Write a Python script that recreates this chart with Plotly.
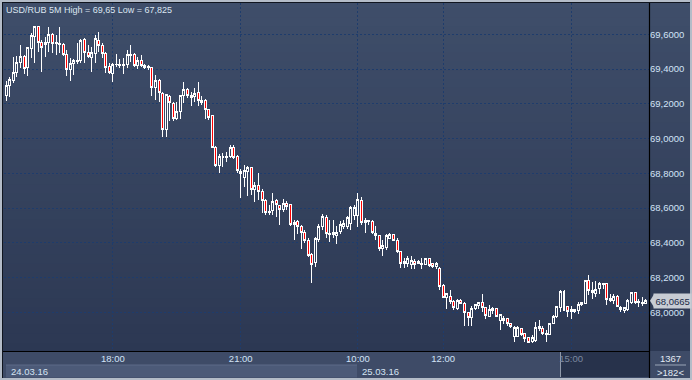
import plotly.graph_objects as go

# ---------------- data ----------------
title_text = "USD/RUB 5M High = 69,65 Low = 67,825"

opens = [
    69.245, 69.303, 69.337, 69.381, 69.437, 69.475, 69.410, 69.519, 69.587, 69.644,
    69.554, 69.544, 69.554, 69.600, 69.548, 69.548, 69.544, 69.485, 69.395, 69.433,
    69.443, 69.448, 69.571, 69.496, 69.468, 69.491, 69.567, 69.533, 69.491, 69.414,
    69.376, 69.424, 69.422, 69.420, 69.424, 69.479, 69.481, 69.422, 69.450, 69.418,
    69.408, 69.408, 69.295, 69.333, 69.261, 69.053, 69.241, 69.203, 69.117, 69.155,
    69.245, 69.284, 69.245, 69.241, 69.266, 69.209, 69.218, 69.165, 69.130, 68.950,
    68.843, 68.891, 68.891, 68.898, 68.946, 68.898, 68.799, 68.776, 68.808, 68.833,
    68.707, 68.731, 68.697, 68.645, 68.574, 68.588, 68.645, 68.613, 68.591, 68.626,
    68.620, 68.507, 68.524, 68.492, 68.459, 68.415, 68.333, 68.286, 68.419, 68.496,
    68.545, 68.453, 68.448, 68.444, 68.467, 68.496, 68.492, 68.511, 68.559, 68.559,
    68.645, 68.515, 68.530, 68.520, 68.453, 68.440, 68.367, 68.373, 68.425, 68.448,
    68.415, 68.348, 68.281, 68.281, 68.277, 68.294, 68.290, 68.277, 68.277, 68.310,
    68.281, 68.262, 68.254, 68.154, 68.087, 68.093, 68.064, 68.024, 68.068, 68.053,
    67.997, 67.972, 68.020, 68.039, 68.059, 68.026, 67.978, 68.024, 68.020, 67.953,
    67.963, 67.963, 67.934, 67.863, 67.863, 67.905, 67.876, 67.853, 67.834, 67.838,
    67.920, 67.909, 67.873, 67.873, 67.934, 67.976, 68.030, 68.120, 68.034, 68.007,
    68.007, 68.011, 68.045, 68.053, 68.183, 68.116, 68.107, 68.135, 68.164, 68.164,
    68.068, 68.068, 68.093, 68.016, 68.011, 68.014, 68.059, 68.112, 68.062, 68.049,
    68.049,
]

highs = [
    69.333, 69.356, 69.471, 69.475, 69.539, 69.481, 69.529, 69.606, 69.650, 69.648,
    69.567, 69.587, 69.644, 69.606, 69.596, 69.640, 69.552, 69.510, 69.462, 69.456,
    69.548, 69.571, 69.577, 69.539, 69.529, 69.596, 69.615, 69.552, 69.500, 69.437,
    69.437, 69.487, 69.456, 69.462, 69.510, 69.539, 69.491, 69.468, 69.481, 69.427,
    69.424, 69.414, 69.366, 69.341, 69.270, 69.257, 69.251, 69.213, 69.213, 69.251,
    69.324, 69.289, 69.270, 69.289, 69.328, 69.245, 69.226, 69.168, 69.136, 68.957,
    68.914, 68.919, 68.923, 68.965, 68.962, 68.908, 68.822, 68.847, 68.841, 68.837,
    68.751, 68.799, 68.712, 68.655, 68.616, 68.684, 68.651, 68.616, 68.655, 68.639,
    68.626, 68.530, 68.530, 68.505, 68.473, 68.425, 68.342, 68.434, 68.511, 68.568,
    68.559, 68.530, 68.530, 68.496, 68.526, 68.530, 68.555, 68.611, 68.616, 68.684,
    68.661, 68.540, 68.534, 68.530, 68.496, 68.444, 68.419, 68.453, 68.457, 68.453,
    68.425, 68.352, 68.313, 68.323, 68.323, 68.304, 68.300, 68.313, 68.313, 68.313,
    68.285, 68.290, 68.260, 68.164, 68.112, 68.131, 68.072, 68.078, 68.074, 68.059,
    68.001, 68.039, 68.049, 68.062, 68.103, 68.030, 68.043, 68.030, 68.024, 67.991,
    67.976, 67.968, 67.940, 67.919, 67.919, 67.911, 67.880, 67.857, 67.867, 67.944,
    67.953, 67.924, 67.896, 67.938, 67.982, 68.039, 68.130, 68.126, 68.039, 68.034,
    68.020, 68.059, 68.062, 68.187, 68.212, 68.174, 68.179, 68.174, 68.168, 68.170,
    68.107, 68.103, 68.101, 68.039, 68.030, 68.074, 68.116, 68.116, 68.078, 68.087,
    68.074,
]

lows = [
    69.218, 69.237, 69.318, 69.356, 69.404, 69.372, 69.362, 69.462, 69.437, 69.500,
    69.385, 69.471, 69.496, 69.491, 69.481, 69.491, 69.477, 69.362, 69.333, 69.366,
    69.427, 69.433, 69.433, 69.462, 69.385, 69.433, 69.500, 69.462, 69.376, 69.372,
    69.324, 69.410, 69.404, 69.372, 69.404, 69.443, 69.410, 69.399, 69.410, 69.399,
    69.395, 69.247, 69.222, 69.209, 69.011, 69.011, 69.103, 69.103, 69.107, 69.113,
    69.203, 69.232, 69.188, 69.213, 69.188, 69.193, 69.111, 69.107, 68.944, 68.835,
    68.804, 68.837, 68.866, 68.891, 68.885, 68.799, 68.659, 68.722, 68.668, 68.674,
    68.636, 68.645, 68.572, 68.559, 68.559, 68.559, 68.549, 68.505, 68.578, 68.588,
    68.496, 68.415, 68.453, 68.367, 68.400, 68.319, 68.171, 68.262, 68.405, 68.473,
    68.425, 68.405, 68.425, 68.392, 68.453, 68.482, 68.478, 68.473, 68.530, 68.492,
    68.501, 68.459, 68.501, 68.450, 68.415, 68.354, 68.325, 68.357, 68.421, 68.409,
    68.344, 68.256, 68.256, 68.262, 68.248, 68.248, 68.277, 68.248, 68.275, 68.262,
    68.256, 68.252, 68.131, 68.082, 68.020, 68.049, 68.016, 68.016, 68.045, 67.924,
    67.924, 67.920, 68.011, 68.020, 68.001, 67.959, 67.972, 67.991, 67.972, 67.896,
    67.934, 67.924, 67.911, 67.832, 67.857, 67.861, 67.828, 67.825, 67.825, 67.832,
    67.892, 67.867, 67.828, 67.871, 67.930, 67.968, 68.001, 68.007, 67.972, 67.959,
    67.995, 67.988, 68.039, 68.049, 68.101, 68.074, 68.087, 68.107, 68.135, 68.043,
    68.059, 68.049, 68.030, 68.001, 67.997, 68.005, 68.049, 68.049, 68.030, 68.034,
    68.045,
]

closes = [
    69.303, 69.341, 69.381, 69.437, 69.475, 69.404, 69.525, 69.596, 69.644, 69.554,
    69.525, 69.552, 69.600, 69.548, 69.552, 69.542, 69.485, 69.395, 69.433, 69.448,
    69.452, 69.567, 69.496, 69.471, 69.496, 69.577, 69.533, 69.491, 69.410, 69.379,
    69.429, 69.429, 69.427, 69.427, 69.481, 69.485, 69.422, 69.448, 69.418, 69.410,
    69.414, 69.295, 69.333, 69.266, 69.053, 69.251, 69.209, 69.117, 69.155, 69.245,
    69.284, 69.245, 69.236, 69.257, 69.218, 69.218, 69.168, 69.122, 68.950, 68.844,
    68.898, 68.898, 68.898, 68.946, 68.891, 68.814, 68.808, 68.818, 68.833, 68.707,
    68.731, 68.697, 68.645, 68.574, 68.582, 68.636, 68.622, 68.591, 68.626, 68.611,
    68.505, 68.517, 68.492, 68.459, 68.415, 68.329, 68.277, 68.425, 68.496, 68.549,
    68.453, 68.448, 68.457, 68.461, 68.505, 68.511, 68.545, 68.603, 68.603, 68.649,
    68.517, 68.530, 68.524, 68.459, 68.444, 68.367, 68.386, 68.444, 68.448, 68.415,
    68.348, 68.281, 68.290, 68.310, 68.300, 68.277, 68.281, 68.281, 68.310, 68.267,
    68.262, 68.281, 68.151, 68.087, 68.107, 68.064, 68.026, 68.068, 68.053, 67.997,
    67.968, 68.020, 68.043, 68.059, 68.030, 67.982, 68.016, 68.011, 67.978, 67.986,
    67.953, 67.934, 67.919, 67.911, 67.911, 67.871, 67.851, 67.828, 67.857, 67.915,
    67.905, 67.876, 67.876, 67.934, 67.976, 68.034, 68.122, 68.011, 68.007, 68.014,
    68.014, 68.045, 68.059, 68.183, 68.126, 68.126, 68.131, 68.164, 68.158, 68.072,
    68.078, 68.093, 68.034, 68.030, 68.026, 68.068, 68.112, 68.059, 68.055, 68.059,
    68.0665,
]

bar_index = list(range(len(closes)))

time_tick_index = [30, 66, 99, 123, 159]
time_tick_labels = ["18:00", "21:00", "10:00", "12:00", "15:00"]
price_ticks = [68.0, 68.2, 68.4, 68.6, 68.8, 69.0, 69.2, 69.4, 69.6]
date_labels = ["24.03.16", "25.03.16"]
bar_total_label = "1367"
bars_visible_label = ">182<"
last_price_label = "68,0665"

# ---------------- layout helpers (pixel -> paper) ----------------
W, H = 692, 380
PL, PR, PT, PB = 4, 649, 3, 351


def px(x):
    return (x - PL) / (PR - PL)


def py(y):
    return (PB - y) / (PB - PT)


FONT = "Liberation Sans, Arial, sans-serif"
FS = 9.5
LABEL_COL = "#d2e3f7"

shapes = []
# vertical gradient background
top_rgb = (63, 78, 106)
bot_rgb = (44, 56, 83)
N = 40
for i in range(N):
    y0 = i * PB / N
    y1 = (i + 1) * PB / N
    t = (i + 0.5) / N
    c = tuple(round(top_rgb[k] + (bot_rgb[k] - top_rgb[k]) * t) for k in range(3))
    shapes.append(dict(type="rect", xref="paper", yref="paper", layer="below",
                       x0=px(0), x1=px(W), y0=py(y0), y1=py(y1 + 0.6),
                       fillcolor="rgb(%d,%d,%d)" % c, line=dict(width=0)))
# bottom time strip
shapes.append(dict(type="rect", xref="paper", yref="paper", layer="below",
                   x0=px(0), x1=px(W), y0=py(PB), y1=py(H),
                   fillcolor="#3e4b67", line=dict(width=0)))
# first-date bar (lighter)
shapes.append(dict(type="rect", xref="paper", yref="paper", layer="below",
                   x0=px(6), x1=px(357), y0=py(365), y1=py(377.5),
                   fillcolor="#4c5a78", line=dict(width=0)))
shapes.append(dict(type="line", xref="paper", yref="paper", layer="below",
                   x0=px(6), x1=px(357), y0=py(365), y1=py(365),
                   line=dict(color="#5d6b88", width=1)))
# dark scroll box
shapes.append(dict(type="rect", xref="paper", yref="paper", layer="below",
                   x0=px(560.5), x1=px(PR), y0=py(352), y1=py(377),
                   fillcolor="#27324b", line=dict(width=0)))
shapes.append(dict(type="line", xref="paper", yref="paper", layer="below",
                   x0=px(560.5), x1=px(560.5), y0=py(352), y1=py(377),
                   line=dict(color="#8f99aa", width=1)))
# separator in bottom right box
shapes.append(dict(type="line", xref="paper", yref="paper", layer="above",
                   x0=px(655), x1=px(686), y0=py(365), y1=py(365),
                   line=dict(color="#9aa6b8", width=1)))
# black axis frame lines
shapes.append(dict(type="line", xref="paper", yref="paper", layer="above",
                   x0=px(PR + 0.5), x1=px(PR + 0.5), y0=py(2), y1=py(H - 2),
                   line=dict(color="#000000", width=1.2)))
shapes.append(dict(type="line", xref="paper", yref="paper", layer="above",
                   x0=px(2), x1=px(PR), y0=py(PB + 0.5), y1=py(PB + 0.5),
                   line=dict(color="#000000", width=1.2)))
shapes.append(dict(type="line", xref="paper", yref="paper", layer="above",
                   x0=px(2), x1=px(W - 2), y0=py(2.5), y1=py(2.5),
                   line=dict(color="#10151f", width=1)))
shapes.append(dict(type="line", xref="paper", yref="paper", layer="above",
                   x0=px(2.5), x1=px(2.5), y0=py(2), y1=py(H - 2),
                   line=dict(color="#10151f", width=1)))
# outer light frame
shapes.append(dict(type="rect", xref="paper", yref="paper", layer="above",
                   x0=px(1), x1=px(W - 1), y0=py(1), y1=py(H - 1),
                   line=dict(color="#b4bcc8", width=2), fillcolor="rgba(0,0,0,0)"))
# last-price marker arrow
tri_h = 6.5 / ((PB - PT) / (69.7802 - 67.7773))
shapes.append(dict(type="path", xref="paper", yref="y", layer="above",
                   path="M %f,%f L %f,%f L %f,%f Z" % (
                       px(650), closes[-1], px(654), closes[-1] + tri_h,
                       px(654), closes[-1] - tri_h),
                   fillcolor="#c7ccd4", line=dict(width=0)))

annotations = [
    dict(xref="paper", yref="paper", x=px(4), y=py(2.5), xanchor="left", yanchor="top",
         text=title_text, showarrow=False,
         font=dict(family=FONT, size=9, color="#dce5f0")),
    dict(xref="paper", yref="paper", x=px(9), y=py(371), xanchor="left", yanchor="middle",
         text=date_labels[0], showarrow=False,
         font=dict(family=FONT, size=FS, color="#d5e3f3")),
    dict(xref="paper", yref="paper", x=px(360), y=py(371), xanchor="left", yanchor="middle",
         text=date_labels[1], showarrow=False,
         font=dict(family=FONT, size=FS, color="#d5e3f3")),
    dict(xref="paper", yref="paper", x=px(670.5), y=py(358.5), xanchor="center", yanchor="middle",
         text=bar_total_label, showarrow=False,
         font=dict(family=FONT, size=FS, color="#e2eaf3")),
    dict(xref="paper", yref="paper", x=px(670.5), y=py(372), xanchor="center", yanchor="middle",
         text=bars_visible_label, showarrow=False,
         font=dict(family=FONT, size=FS, color="#e2eaf3")),
    dict(xref="paper", yref="y", x=px(653), y=closes[-1], xanchor="left", yanchor="middle",
         text=last_price_label, showarrow=False, bgcolor="#c7ccd4", borderpad=1.5,
         font=dict(family=FONT, size=FS, color="#1b2a48")),
]

tick_text = [t if t != "15:00" else "<span style='color:#7c89a0'>15:00</span>"
             for t in time_tick_labels]

fig = go.Figure(go.Candlestick(
    x=bar_index, open=opens, high=highs, low=lows, close=closes,
    increasing=dict(line=dict(color="#ffffff", width=1), fillcolor="rgba(0,0,0,0)"),
    decreasing=dict(line=dict(color="#ffffff", width=1), fillcolor="#ff0000"),
    whiskerwidth=0, hoverinfo="skip", showlegend=False,
))

fig.update_layout(
    width=W, height=H,
    margin=dict(l=PL, r=W - PR, t=PT, b=H - PB),
    paper_bgcolor="#3e4b67", plot_bgcolor="rgba(0,0,0,0)",
    separators=", ",
    boxgap=0.2,
    shapes=shapes, annotations=annotations,
    font=dict(family=FONT, size=FS, color=LABEL_COL),
    xaxis=dict(range=[-0.65, len(closes) - 1 + 0.93], tickmode="array",
               tickvals=time_tick_index, ticktext=tick_text,
               showgrid=True, gridcolor="#1e3c6c", griddash="2px,2px", gridwidth=1,
               zeroline=False, showline=False, ticks="",
               rangeslider=dict(visible=False), fixedrange=True,
               tickfont=dict(family=FONT, size=FS, color=LABEL_COL)),
    yaxis=dict(range=[67.7773, 69.7802], side="right", tickmode="array",
               tickvals=price_ticks, tickformat=".4f",
               showgrid=True, gridcolor="#1e3c6c", griddash="2px,2px", gridwidth=1,
               zeroline=False, showline=False, ticks="", fixedrange=True,
               tickfont=dict(family=FONT, size=FS, color=LABEL_COL)),
)

post = (
    "document.body.style.margin='0';document.body.style.overflow='hidden';"
    "document.querySelectorAll('.boxlayer path').forEach(function(p){"
    "p.style.shapeRendering='crispEdges';});"
)
fig.write_html("out.html", config={"displayModeBar": False}, post_script=post)
